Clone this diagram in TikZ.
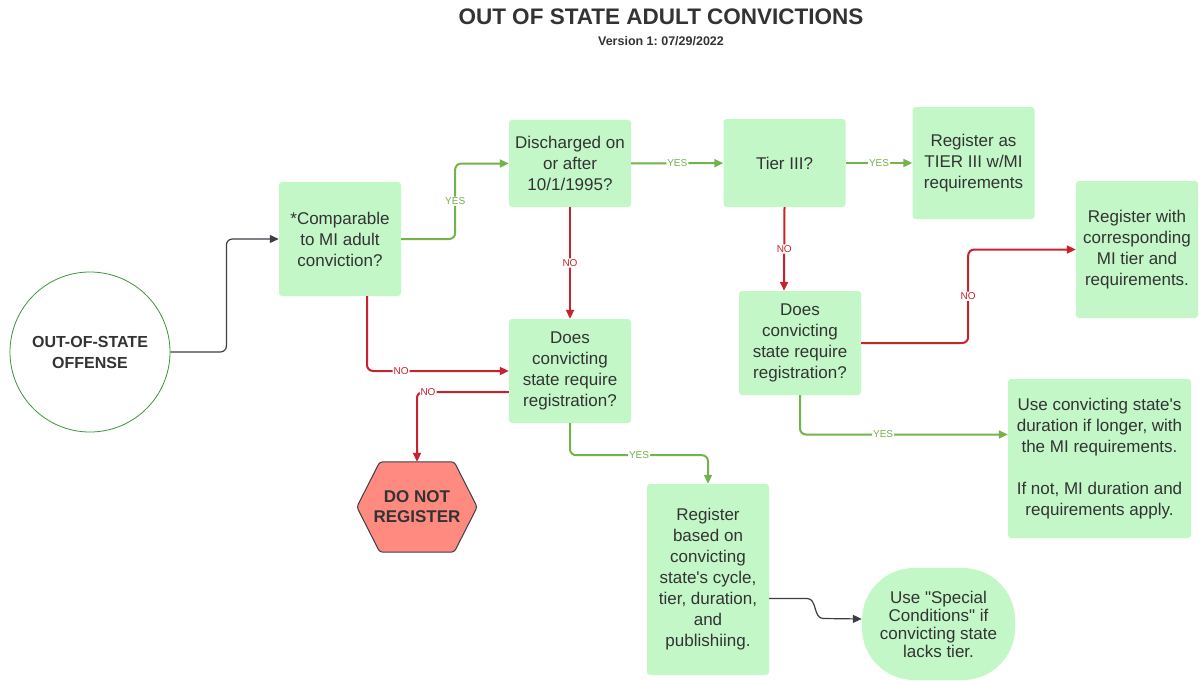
\documentclass[tikz,border=0pt]{standalone}
\usepackage{fontspec}
\setmainfont{Liberation Sans}
\frenchspacing
\usetikzlibrary{arrows.meta,backgrounds}
\definecolor{boxgreen}{HTML}{C3F7C8}
\definecolor{yesgreen}{HTML}{72B34A}
\definecolor{nored}{HTML}{C8232D}
\definecolor{textgray}{HTML}{333333}
\definecolor{linegray}{HTML}{3A3F47}
\definecolor{ringgreen}{HTML}{3C963C}
\definecolor{stopred}{HTML}{FF8A80}
\tikzset{
  flowfig/.style={>={Triangle[length=9pt,width=8pt]},x=1pt,y=-1pt,
    every node/.style={text=textgray,align=center}},
  stepbox/.style={fill=boxgreen,rounded corners=3pt,inner sep=2pt,
    minimum width=122pt,font=\fontsize{17pt}{21pt}\selectfont},
  startnode/.style={circle,draw=ringgreen,line width=0.8pt,fill=white,
    minimum size=160pt,inner sep=0pt,
    font=\bfseries\fontsize{16pt}{21pt}\selectfont},
  stopnode/.style={minimum width=120pt,minimum height=90pt,inner sep=0pt,
    font=\bfseries\fontsize{17pt}{20pt}\selectfont},
  stopshape/.style={fill=stopred,draw=linegray,line width=1pt,
    rounded corners=3pt},
  ovalnode/.style={fill=boxgreen,rounded corners=52pt,minimum width=153pt,
    minimum height=112pt,inner sep=0pt,
    font=\fontsize{17pt}{18pt}\selectfont},
  yesline/.style={->,draw=yesgreen,line width=2pt,rounded corners=6pt},
  noline/.style={->,draw=nored,line width=2pt,rounded corners=6pt},
  plainline/.style={->,draw=linegray,line width=1.2pt,rounded corners=6pt},
  yeslabel/.style={fill=white,text=yesgreen,inner sep=1pt,
    font=\fontsize{10pt}{10pt}\selectfont},
  nolabel/.style={fill=white,text=nored,inner sep=1pt,
    font=\fontsize{10pt}{10pt}\selectfont},
}
\begin{document}
\begin{tikzpicture}[flowfig]
    \useasboundingbox (0,0) rectangle (1199,680);
    \node[font=\bfseries\fontsize{22.5pt}{27pt}\selectfont] (title) at (661,17)
      {OUT OF STATE ADULT CONVICTIONS};
    \node[font=\bfseries\fontsize{12.5pt}{15pt}\selectfont] (version) at (661,41)
      {Version 1: 07/29/2022};

    \node[startnode] (offense) at (90,352) {OUT-OF-STATE\\OFFENSE};
    \node[stepbox,minimum height=114pt] (comp) at (340,239)
      {*Comparable\\to MI adult\\conviction?};
    \node[stepbox,minimum height=87pt] (disch) at (570,163.5)
      {Discharged on\\or after\\10/1/1995?};
    \node[stepbox,minimum height=88pt] (tier) at (784.5,163) {Tier III?};
    \node[stepbox,minimum height=112pt] (regthree) at (973.5,163)
      {Register as\\TIER III w/MI\\requirements};
    \node[stepbox,minimum height=137pt] (regmi) at (1137,249.5)
      {Register with\\corresponding\\MI tier and\\requirements.};
    \node[stepbox,minimum height=104pt] (reqleft) at (570,371)
      {Does\\convicting\\state require\\registration?};
    \node[stepbox,minimum height=104pt] (reqright) at (800,343)
      {Does\\convicting\\state require\\registration?};
    \node[stepbox,minimum width=183pt,minimum height=159pt] (duration)
      at (1099.5,458.5)
      {Use convicting state\textquotesingle s\\duration if longer, with\\the MI requirements.\\[21pt]If not, MI duration and\\requirements apply.};
    \node[stepbox,minimum height=191pt] (cycle) at (708,579.5)
      {Register\\based on\\convicting\\state\textquotesingle s cycle,\\tier, duration,\\and\\publishiing.};
    \node[ovalnode] (special) at (938.5,624)
      {Use \textquotedbl Special\\Conditions\textquotedbl\ if\\convicting state\\lacks tier.};
    \node[stopnode] (stop) at (417,507) {DO NOT\\REGISTER};
    \begin{scope}[on background layer]
      \draw[stopshape] (stop.west) -- ([xshift=23pt]stop.north west)
        -- ([xshift=-23pt]stop.north east) -- (stop.east)
        -- ([xshift=-23pt]stop.south east) -- ([xshift=23pt]stop.south west)
        -- cycle;
    \end{scope}

    \draw[plainline] (offense.east) -- ++(56,0) |- (comp.west);
    \draw[yesline] (comp.east) -- ++(54,0)
      |- node[yeslabel,pos=0.25] {YES} (disch.west);
    \draw[yesline] (disch) -- node[yeslabel] {YES} (tier);
    \draw[yesline] (tier) -- node[yeslabel] {YES} (regthree);
    \draw[noline] (disch) -- node[nolabel] {NO} (reqleft);
    \draw[noline] ([xshift=27pt]comp.south)
      |- node[nolabel,pos=0.62] {NO} (reqleft.west);
    \draw[noline] ([yshift=-21pt]reqleft.west)
      -| node[nolabel,pos=0.44] {NO} (stop.north);
    \draw[yesline] (reqleft.south) -- ++(0,32)
      -| node[yeslabel,pos=0.25] {YES} (cycle.north);
    \draw[noline] (tier.south) -- node[nolabel] {NO} ([xshift=-16pt]reqright.north);
    \draw[noline] (reqright.east) -- ++(107,0)
      |- node[nolabel,pos=0.25] {NO} (regmi.west);
    \draw[yesline] (reqright.south)
      |- node[yeslabel,pos=0.70] {YES} ([yshift=24pt]duration.west);
    \draw[plainline,sharp corners] ([yshift=-19pt]cycle.east) -- ++(38,0)
      to[out=0,in=180] ++(16,20) -- ([yshift=5pt]special.west);
\end{tikzpicture}
\end{document}
